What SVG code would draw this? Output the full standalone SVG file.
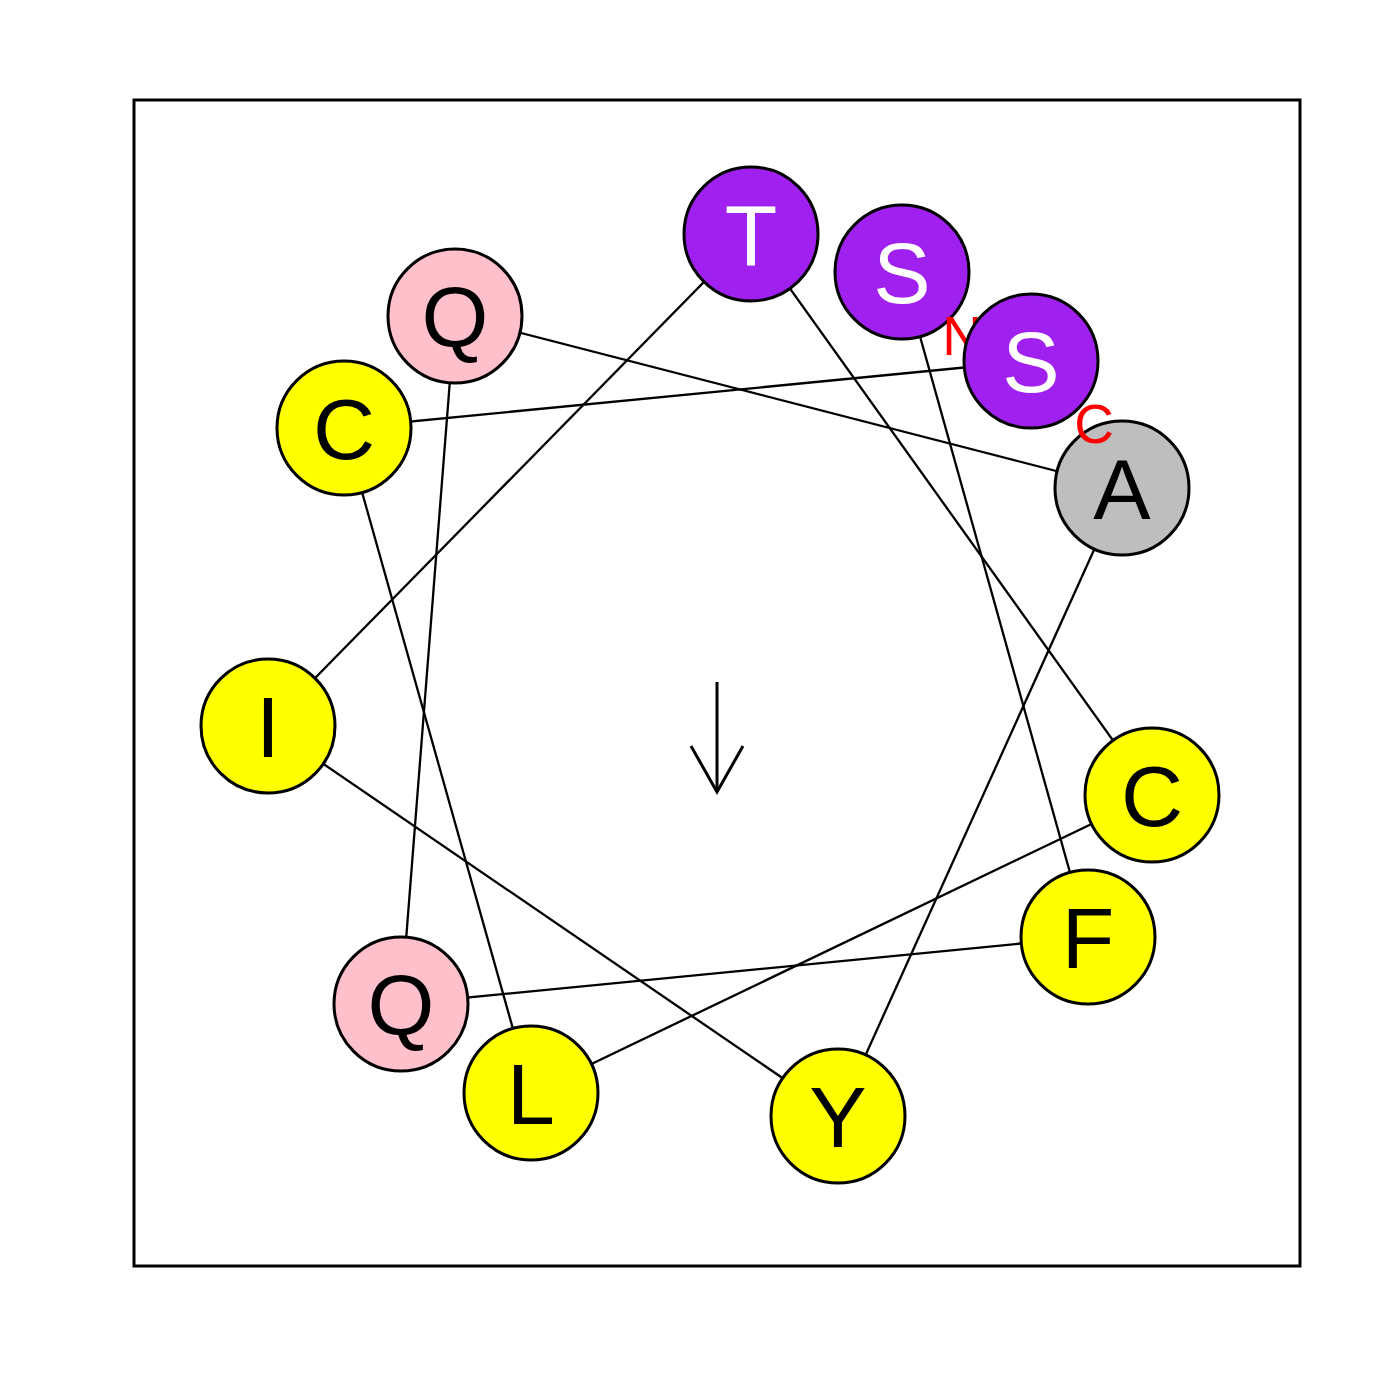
<svg xmlns="http://www.w3.org/2000/svg" width="1400" height="1400" viewBox="0 0 1400 1400">
<style>
.res circle{stroke:#000;stroke-width:3}
.res text{font-family:"Liberation Sans",Arial,sans-serif;font-size:86px;text-anchor:middle}
.lbl{font-family:"Liberation Sans",Arial,sans-serif;font-size:55px;fill:#ff0000;text-anchor:middle}
.links line{stroke:#000;stroke-width:2.3}
</style>
<rect width="1400" height="1400" fill="#fff"/>
<rect x="134" y="100" width="1166" height="1166" fill="none" stroke="#000" stroke-width="3"/>
<g id="connectors" class="links">
<line x1="902" y1="272" x2="1088" y2="937"/>
<line x1="1088" y1="937" x2="401" y2="1004"/>
<line x1="401" y1="1004" x2="455" y2="316"/>
<line x1="455" y1="316" x2="1122" y2="488"/>
<line x1="1122" y1="488" x2="838" y2="1116"/>
<line x1="838" y1="1116" x2="268" y2="726"/>
<line x1="268" y1="726" x2="751" y2="234"/>
<line x1="751" y1="234" x2="1152" y2="795"/>
<line x1="1152" y1="795" x2="531" y2="1093"/>
<line x1="531" y1="1093" x2="344" y2="428"/>
<line x1="344" y1="428" x2="1031" y2="361"/>
</g>
<g id="arrow" stroke="#000" stroke-width="3" fill="none">
<line x1="717" y1="682" x2="717" y2="792"/>
<polyline points="691,746 717,792 743,746"/>
</g>
<g id="r1" class="res"><circle cx="902" cy="272" r="67" fill="#A020F0"/><text x="902" y="303" fill="#fff">S</text></g>
<text id="labelN" class="lbl" x="962" y="355">N</text>
<g id="r2" class="res"><circle cx="1088" cy="937" r="67" fill="#FFFF00"/><text x="1088" y="968" fill="#000">F</text></g>
<g id="r3" class="res"><circle cx="401" cy="1004" r="67" fill="#FFC0CB"/><text x="401" y="1035" fill="#000">Q</text></g>
<g id="r4" class="res"><circle cx="455" cy="316" r="67" fill="#FFC0CB"/><text x="455" y="347" fill="#000">Q</text></g>
<g id="r5" class="res"><circle cx="1122" cy="488" r="67" fill="#BEBEBE"/><text x="1122" y="519" fill="#000">A</text></g>
<g id="r6" class="res"><circle cx="838" cy="1116" r="67" fill="#FFFF00"/><text x="838" y="1147" fill="#000">Y</text></g>
<g id="r7" class="res"><circle cx="268" cy="726" r="67" fill="#FFFF00"/><text x="268" y="757" fill="#000">I</text></g>
<g id="r8" class="res"><circle cx="751" cy="234" r="67" fill="#A020F0"/><text x="751" y="265" fill="#fff">T</text></g>
<g id="r9" class="res"><circle cx="1152" cy="795" r="67" fill="#FFFF00"/><text x="1152" y="826" fill="#000">C</text></g>
<g id="r10" class="res"><circle cx="531" cy="1093" r="67" fill="#FFFF00"/><text x="531" y="1124" fill="#000">L</text></g>
<g id="r11" class="res"><circle cx="344" cy="428" r="67" fill="#FFFF00"/><text x="344" y="459" fill="#000">C</text></g>
<g id="r12" class="res"><circle cx="1031" cy="361" r="67" fill="#A020F0"/><text x="1031" y="392" fill="#fff">S</text></g>
<text id="labelC" class="lbl" x="1094" y="443">C</text>
</svg>
